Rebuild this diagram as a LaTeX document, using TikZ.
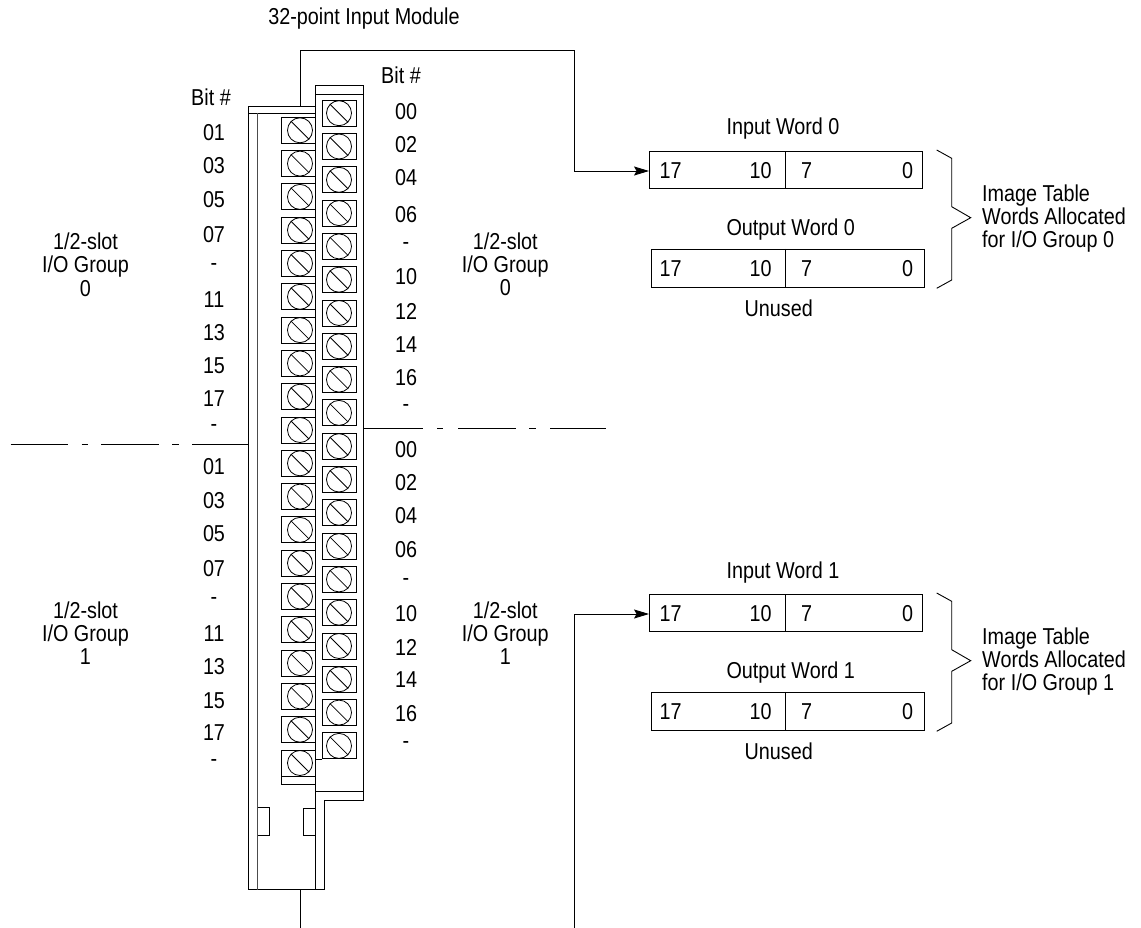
\documentclass[tikz,border=0pt]{standalone}
\usepackage{fontspec}
\setmainfont[FakeStretch=0.86]{Liberation Sans}
\usetikzlibrary{arrows.meta}
\tikzset{
  ln/.style={draw=black,line width=0.9pt},
  lbl/.style={inner sep=0pt,font=\fontsize{23}{23.3}\selectfont,align=center},
  lblb/.style={lbl,anchor=base},
  wordbox/.style={draw=black,line width=0.9pt,minimum width=272.5pt,minimum height=36.8pt,inner sep=0pt},
  term/.style={draw=black,line width=0.9pt,minimum width=34pt,minimum height=26pt,inner sep=0pt},
  screw/.style={draw=black,line width=0.8pt,circle,minimum size=25pt,inner sep=0pt},
  conn/.style={draw=black,line width=0.9pt,-{Stealth[length=15pt,width=9pt,inset=2.5pt]}},
}
\newcommand{\wordgroup}[3]{% y offset, prefix, word number
  \begin{scope}[shift={(0,#1)}]
    \node[lblb] at (783,135) {Input Word #3};
    \node[wordbox] (#2in) at (785.75,170) {};
    \draw[ln] ([xshift=-0.25pt]#2in.north) -- ([xshift=-0.25pt]#2in.south);
    \node[lbl] at (670.7,171) {17};\node[lbl] at (760.7,171) {10};\node[lbl] at (806.7,171) {7};\node[lbl] at (907.5,171) {0};
    \node[lblb] at (790.7,235.7) {Output Word #3};
    \node[wordbox,minimum height=37.7pt] (#2out) at (787.7,268.2) {};
    \draw[ln] ([xshift=-2.2pt]#2out.north) -- ([xshift=-2.2pt]#2out.south);
    \node[lbl] at (670.7,269) {17};\node[lbl] at (760.7,269) {10};\node[lbl] at (806.7,269) {7};\node[lbl] at (907.5,269) {0};
    \node[lblb] at (778.7,316.7) {Unused};
    \draw[ln] (936.7,150) -- (951.7,158.3) -- (951.7,206.7) -- (970.7,217.7) -- (951.7,228.3) -- (951.7,280) -- (936.7,288.3);
    \node[lbl,align=left,anchor=west] at (982,218.6) {Image Table\\Words Allocated\\for I/O Group #3};
  \end{scope}
}
\begin{document}
\begin{tikzpicture}[x=1pt,y=-1pt]
\useasboundingbox (0,0) rectangle (1141,928);
% module body
\draw[ln] (316,106) -- (248.5,106) -- (248.5,889.5) -- (324,889.5) -- (324,800.5) -- (363,800.5) -- (363,85.5) -- (315.5,85.5) -- (315.5,889.5);
\draw[ln] (248.5,113.5) -- (315.5,113.5);
\draw[ln] (315.5,94.5) -- (363,94.5);
\draw[ln,draw=black!70] (257.5,113.5) -- (257.5,889.5);
\draw[ln] (315.5,791.5) -- (363,791.5);
\draw[ln] (257.5,807.5) -- (269,807.5) -- (269,835) -- (257.5,835);
\draw[ln] (315.5,808) -- (303.5,808) -- (303.5,835.5) -- (315.5,835.5);
\draw[ln] (281.5,776) -- (281.5,784.5) -- (315.5,784.5);
\draw[ln] (315.5,759) -- (322,759);
% terminals
\foreach \i in {0,...,19}{
  \pgfmathsetmacro{\ya}{130.3+33.3*\i}
  \pgfmathsetmacro{\yb}{113.2+33.3*\i}
  \node[term] (L\i) at (298.5,\ya) {};
  \node[screw] (LS\i) at (300,\ya) {};
  \draw[line width=0.8pt] (LS\i.135) -- (LS\i.-45);
  \node[term] (R\i) at (339,\yb) {};
  \node[screw] (RS\i) at (339,\yb) {};
  \draw[line width=0.8pt] (RS\i.135) -- (RS\i.-45);
}
% bit labels
\node[lblb] at (211,105.5) {Bit \#};
\node[lblb] at (401,83.3) {Bit \#};
\foreach \t/\y in {01/132.5,03/166,05/200,07/235,-/267,11/300,13/333,15/366,17/399,-/428,01/467,03/501,05/534,07/569,-/601,11/634,13/667,15/701,17/733,-/763}
  \node[lbl] at (214,\y) {\t};
\foreach \t/\y in {00/112,02/145,04/178,06/215,-/246,10/277,12/311,14/345,16/378,-/408,00/450,02/483,04/516,06/550,-/582,10/614,12/647,14/680,16/714,-/745}
  \node[lbl] at (406,\y) {\t};
% group labels
\node[lbl] at (85.5,264.5) {1/2-slot\\I/O Group\\0};
\node[lbl] at (85.5,633.2) {1/2-slot\\I/O Group\\1};
\node[lbl] at (505.3,264.2) {1/2-slot\\I/O Group\\0};
\node[lbl] at (505.3,633.2) {1/2-slot\\I/O Group\\1};
\node[lblb] at (364,24.3) {32-point Input Module};
% dash-dot lines
\draw[ln] (10.5,444) -- (68,444) (81.5,444) -- (88,444) (101,444) -- (159,444) (172,444) -- (179,444) (192,444) -- (248.5,444);
\draw[ln] (363,428.5) -- (423,428.5) (437,428.5) -- (443,428.5) (458,428.5) -- (515.5,428.5) (529,428.5) -- (536,428.5) (550,428.5) -- (606,428.5);
% words
\wordgroup{0}{a}{0}
\wordgroup{443}{b}{1}
% connectors
\coordinate (topstart) at (300.7,106);
\coordinate (botstart) at (300.7,889.5);
\coordinate (botend) at (300.7,928);
\coordinate (lowend) at (574.5,928);
\draw[conn] (topstart) -- (300.7,50) -- (574.5,50) -- (574.5,171) -- (ain.west|-574.5,171);
\draw[conn] (lowend) -- (574.5,614) -- (bin.west|-574.5,614);
\draw[ln] (botstart) -- (botend);
\end{tikzpicture}
\end{document}
